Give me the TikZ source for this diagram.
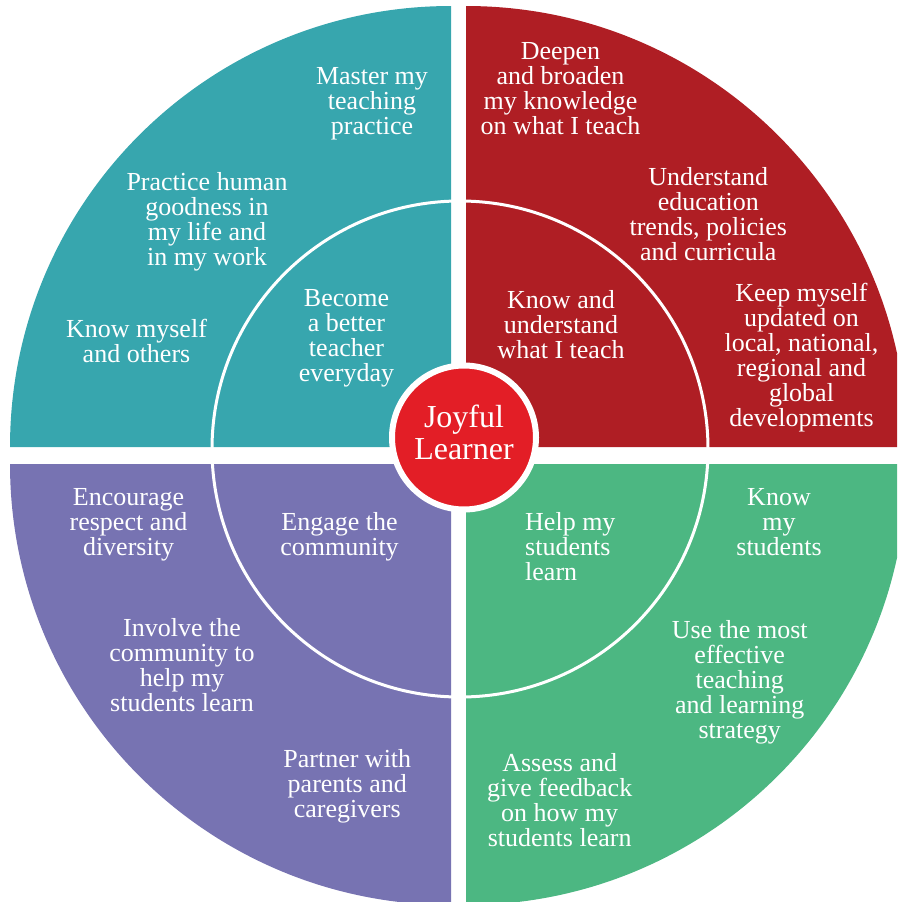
\documentclass[tikz,border=0pt]{standalone}
\usepackage{fontspec}
\setmainfont{Liberation Serif}
\definecolor{qteal}{HTML}{37A6AE}
\definecolor{qred}{HTML}{AF1E24}
\definecolor{qpurple}{HTML}{7773B2}
\definecolor{qgreen}{HTML}{4CB782}
\definecolor{jred}{HTML}{E31E26}
\tikzset{
  lbl/.style={text=white, align=center, inner sep=0pt,
    font=\fontsize{26}{25}\selectfont,
    execute at begin node=\strut, execute at end node=\strut},
  corestyle/.style={circle, fill=jred, draw=white, line width=6pt,
    minimum size=144pt, inner sep=0pt, text=white, align=center,
    font=\fontsize{32}{32}\selectfont,
    execute at begin node=\strut, execute at end node=\strut},
  ringline/.style={white, line width=3pt}
}
\begin{document}
\begin{tikzpicture}[x=1pt,y=-1pt]
\useasboundingbox (0,0) rectangle (897,902);
\clip (0,0) rectangle (897,902);
% quadrants
\fill[qteal] (451,447) -- (10,447) arc[start angle=180,end angle=270,radius=441] -- cycle;
\fill[qred] (466,447) -- (466,6) arc[start angle=270,end angle=360,radius=441] -- cycle;
\fill[qpurple] (451,464) -- (10,464) arc[start angle=180,end angle=90,radius=441] -- cycle;
\fill[qgreen] (466,464) -- (907,464) arc[start angle=0,end angle=90,radius=441] -- cycle;
% inner ring
\draw[ringline] (460,449) circle[radius=248];
% centre
\node[corestyle] (core) at (464,437.5) {Joyful\\Learner};
% teal texts
\node[lbl] (t1) at (372,105) {Master my\\teaching\\practice};
\node[lbl] (t2) at (207,223) {Practice human\\goodness in\\my life and\\in my work};
\node[lbl] (t3) at (136.5,345) {Know myself\\and others};
\node[lbl] (t4) at (346.5,339) {Become\\a better\\teacher\\everyday};
% red texts
\node[lbl] (r1) at (560.5,92) {Deepen\\and broaden\\my knowledge\\on what I teach};
\node[lbl] (r2) at (708.3,218) {Understand\\education\\trends, policies\\and curricula};
\node[lbl] (r3) at (801.5,359) {Keep myself\\updated on\\local, national,\\regional and\\global\\developments};
\node[lbl] (r4) at (561,328) {Know and\\understand\\what I teach};
% purple texts
\node[lbl] (p1) at (128.5,525.7) {Encourage\\respect and\\diversity};
\node[lbl] (p2) at (339.5,537.5) {Engage the\\community};
\node[lbl] (p3) at (182,669) {Involve the\\community to\\help my\\students learn};
\node[lbl] (p4) at (347.3,787.7) {Partner with\\parents and\\caregivers};
% green texts
\node[lbl, align=left, anchor=west] (g1) at (525,550) {Help my\\students\\learn};
\node[lbl] (g2) at (779,525.7) {Know\\my\\students};
\node[lbl] (g3) at (739.7,683.3) {Use the most\\effective\\teaching\\and learning\\strategy};
\node[lbl] (g4) at (559.7,803.5) {Assess and\\give feedback\\on how my\\students learn};
\end{tikzpicture}
\end{document}
